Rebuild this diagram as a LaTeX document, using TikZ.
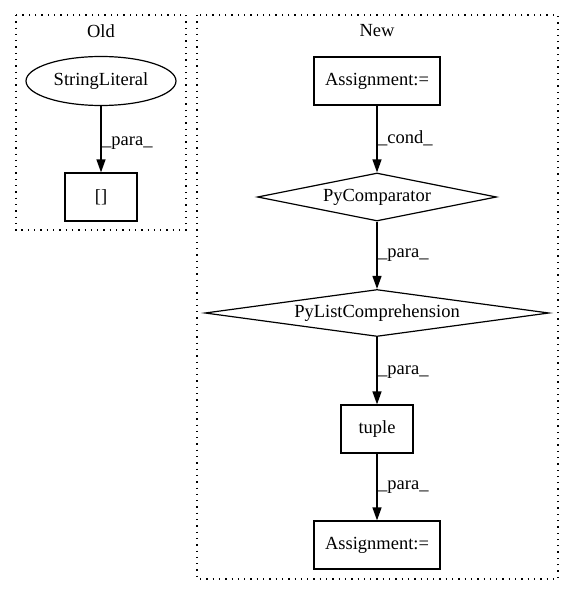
\documentclass[tikz,border=0pt]{standalone}
\usepackage{fontspec}
\setmainfont{Liberation Serif}
\usepackage{tikz}
\definecolor{white}{rgb}{1.0, 1.0, 1.0}
\definecolor{black}{rgb}{0.0, 0.0, 0.0}
\usetikzlibrary{arrows.meta}
\usetikzlibrary{shapes.geometric}
\pgfdeclarelayer{edgelayer}
\pgfdeclarelayer{nodelayer}
\pgfsetlayers{edgelayer,nodelayer,main}
\tikzstyle{box}=[rectangle,fill=white,draw=black,inner sep=0pt,line width=1.2pt]
\tikzstyle{oval}=[ellipse,fill=white,draw=black,inner sep=0pt,line width=1.2pt]
\tikzstyle{rhomb}=[diamond,fill=white,draw=black,inner sep=0pt,aspect=7,line width=1.2pt]
\tikzstyle{cluster}=[draw=black,line width=1.3pt,dash pattern=on 1.3pt off 5pt]
\tikzstyle{lbl}=[anchor=west,inner sep=1pt]
\tikzstyle{edge}=[-{Triangle[length=13pt,width=9pt]},line width=1.3pt]

\begin{document}
\begin{tikzpicture}[x=1pt,y=-1pt,font=\fontsize{18.5pt}{22pt}\selectfont]
        \useasboundingbox (0,0) rectangle (573,596);
        \draw [style = cluster] (16,15) rectangle (186,230);
        \draw [style = cluster] (197,15) rectangle (558,579);
        \node (old) at (101,31) {Old};
        \node (new) at (377,31) {New};

        \begin{pgfonlayer}{nodelayer}
            \node [style = oval, minimum width=150, minimum height=49] (strlit) at (101,81) {StringLiteral};
            \node [style = box, minimum width=72, minimum height=48] (brackets) at (101,197) {[]};

            \node [style = box, minimum width=126, minimum height=48] (assign1) at (377,81) {Assignment:=};
            \node [style = rhomb, minimum width=239, minimum height=48] (pycomp) at (377,197) {PyComparator};
            \node [style = rhomb, minimum width=344, minimum height=47] (pylist) at (377,313) {PyListComprehension};
            \node [style = box, minimum width=72, minimum height=48] (tuple) at (377,429) {tuple};
            \node [style = box, minimum width=126, minimum height=48] (assign2) at (377,545) {Assignment:=};
        \end{pgfonlayer}

        \begin{pgfonlayer}{edgelayer}
            \draw [style = edge] (strlit) to (brackets);
            \draw [style = edge] (assign1) to (pycomp);
            \draw [style = edge] (pycomp) to (pylist);
            \draw [style = edge] (pylist) to (tuple);
            \draw [style = edge] (tuple) to (assign2);
        \end{pgfonlayer}

        \node [style = lbl] (l1) at (101,143) {\_para\_};
        \node [style = lbl] (l2) at (377,138) {\_cond\_};
        \node [style = lbl] (l3) at (377,255) {\_para\_};
        \node [style = lbl] (l4) at (377,372) {\_para\_};
        \node [style = lbl] (l5) at (377,487) {\_para\_};
    \end{tikzpicture}
\end{document}
